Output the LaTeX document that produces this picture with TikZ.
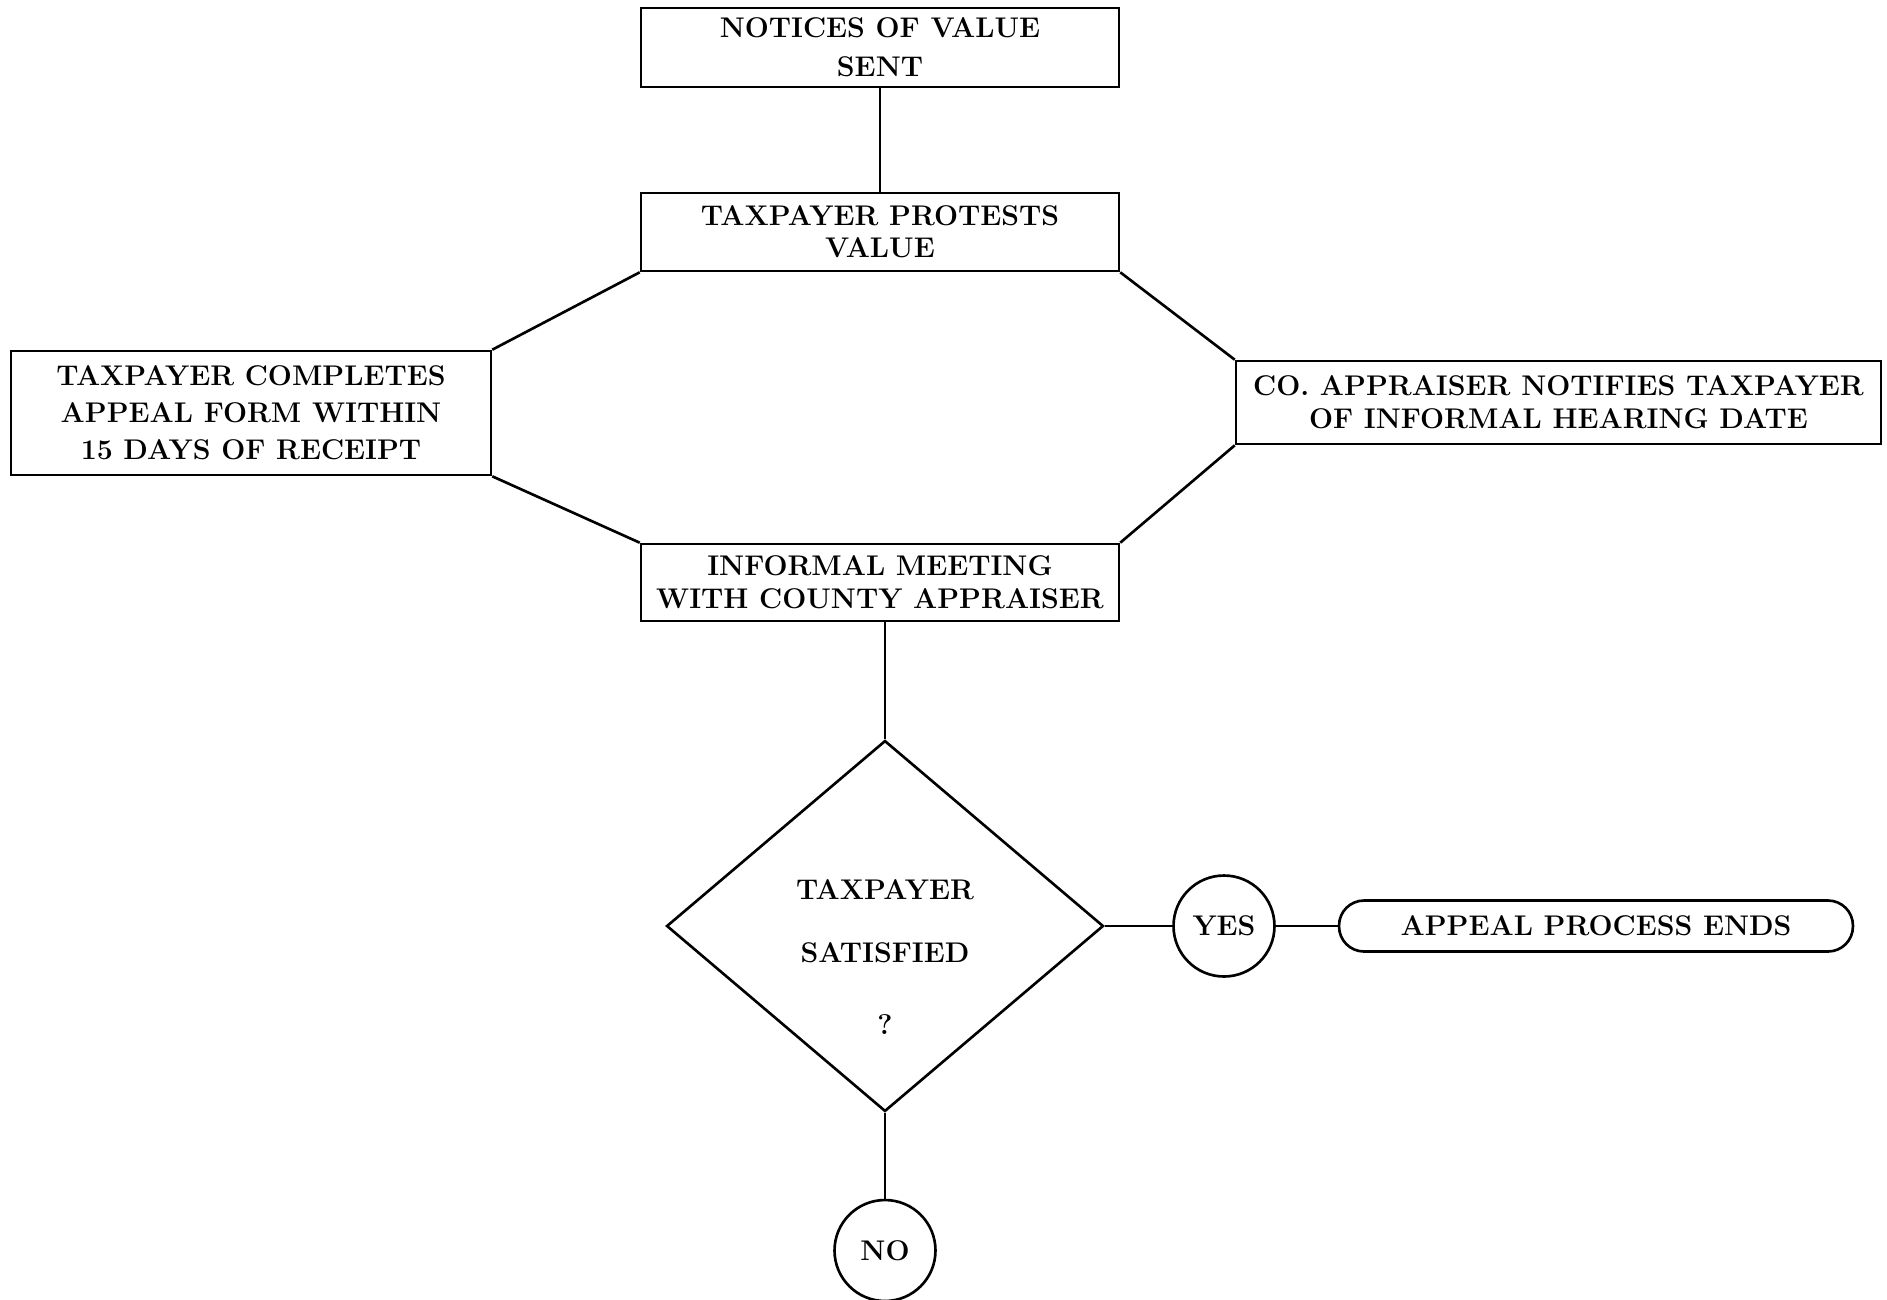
\documentclass[tikz,border=0pt]{standalone}
\usetikzlibrary{shapes.geometric}
\tikzset{
	stepbox/.style={draw, line width=1.5pt, inner sep=0pt, align=center, font=\bfseries\fontsize{16.2}{19}\selectfont},
	askbox/.style={draw, diamond, line width=1.5pt, inner sep=0pt},
	answer/.style={draw, circle, line width=1.5pt, inner sep=0pt, minimum size=2.02cm, font=\bfseries\fontsize{16.2}{19}\selectfont},
	endbox/.style={stepbox, rounded corners=0.5cm},
	link/.style={line width=1.5pt}
}

\begin{document}
\begin{tikzpicture}[x=0.02cm, y=-0.02cm]
		%%%%% START %%%%%
		\useasboundingbox (0, 0) rectangle (1887, 1299);
		
		\node[stepbox, minimum width=9.56cm, minimum height=1.58cm, font=\bfseries\fontsize{16.2}{22}\selectfont] (notice) at (880, 47.5) {NOTICES OF VALUE\\SENT};
		\node[stepbox, minimum width=9.56cm, minimum height=1.56cm, font=\bfseries\fontsize{16.2}{18}\selectfont] (protest) at (880, 232) {TAXPAYER PROTESTS\\VALUE};
		
		\node[stepbox, minimum width=9.6cm, minimum height=2.48cm, font=\bfseries\fontsize{16.2}{21}\selectfont] (complete) at (251, 413) {TAXPAYER COMPLETES\\APPEAL FORM WITHIN\\15 DAYS OF RECEIPT};
		\node[stepbox, minimum width=12.9cm, minimum height=1.66cm] (notify) at (1558.5, 402.5) {CO. APPRAISER NOTIFIES TAXPAYER\\OF INFORMAL HEARING DATE};
		
		\node[stepbox, minimum width=9.56cm, minimum height=1.54cm] (meeting) at (880, 582.5) {INFORMAL MEETING\\WITH COUNTY APPRAISER};
		
		\node[askbox, minimum width=8.74cm, minimum height=7.42cm,
			label={[name=asktext, yshift=-0.62cm, align=center, font=\bfseries\fontsize{16.2}{19}\selectfont]center:TAXPAYER\\[17pt]SATISFIED\\[22pt]?}] (ask) at (885, 926) {};
		
		\node[answer] (yes) at (1224, 926) {YES};
		\node[endbox, minimum width=10.28cm, minimum height=1.02cm] (ends) at (1596, 926) {APPEAL PROCESS ENDS};
		\node[answer] (no) at (885, 1250.5) {NO};
		
		\draw[link] (notice) -- (protest);
		\draw[link] (protest.south west) -- (complete.north east);
		\draw[link] (protest.south east) -- (notify.north west);
		\draw[link] (complete.south east) -- (meeting.north west);
		\draw[link] (notify.south west) -- (meeting.north east);
		\draw[link] (ask.north |- meeting.south) -- (ask.north);
		\draw[link] (ask.east) -- (yes.west);
		\draw[link] (yes.east) -- (ends.west);
		\draw[link] (ask.south) -- (no.north);
		
		%%%%% END %%%%%
\end{tikzpicture}
\end{document}
